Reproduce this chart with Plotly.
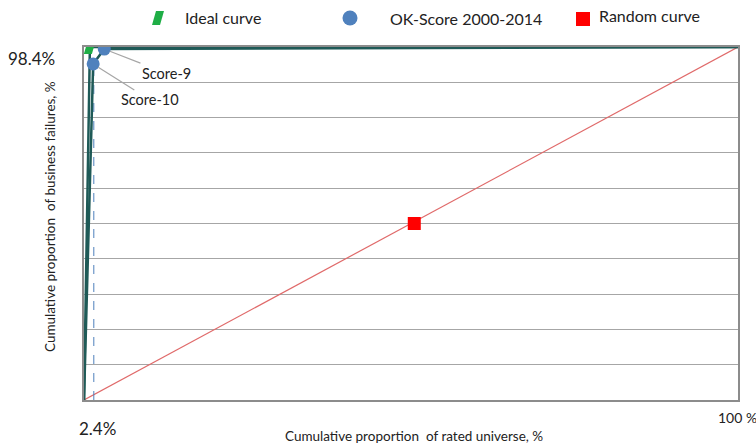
import plotly.graph_objects as go

# ---- data (percent) ----
ideal_x = [0, 0.9, 100]
ideal_y = [0, 100, 100]

okscore_x = [0, 1.4, 3.1, 100]
okscore_y = [0, 95.2, 99.4, 100]
okscore_labels = ["", "Score-10", "Score-9", ""]

cutoff_x = [1.5, 1.5]
cutoff_y = [0, 93.5]

random_x = [0, 50, 100]
random_y = [0, 50, 100]
random_marker_x = [50.5]
random_marker_y = [50]

legend_names = ["Ideal curve", "OK-Score 2000-2014", "Random curve"]
y_label_text = "98.4%"
x_label_text = "2.4%"
x_end_text = "100 %"

FONT = "Lato"
TEAL = "#1f5a57"
GREEN = "#1fae46"
BLUE = "#4f81bd"
RED = "#ff0000"

fig = go.Figure()

# random diagonal
fig.add_trace(go.Scatter(x=random_x, y=random_y, mode="lines",
                         line=dict(color="#e06a6a", width=1.2), showlegend=False, hoverinfo="skip"))
fig.add_trace(go.Scatter(x=random_marker_x, y=random_marker_y, mode="markers",
                         marker=dict(symbol="square", size=13, color=RED), showlegend=False))

# dashed cut-off
fig.add_trace(go.Scatter(x=cutoff_x, y=cutoff_y, mode="lines",
                         line=dict(color=BLUE, width=1, dash="dash"), showlegend=False))

# ideal curve
fig.add_trace(go.Scatter(x=ideal_x, y=ideal_y, mode="lines",
                         line=dict(color=TEAL, width=2.5), showlegend=False))

# OK-score curve
fig.add_trace(go.Scatter(x=okscore_x, y=okscore_y, mode="lines",
                         line=dict(color=TEAL, width=2.5), showlegend=False))
fig.add_trace(go.Scatter(x=okscore_x[1:3], y=okscore_y[1:3], mode="markers",
                         marker=dict(symbol="circle", size=13, color=BLUE), showlegend=False))

shapes = []
# ideal-curve marker (parallelogram) anchored at the ideal point
shapes.append(dict(type="path", xref="x", yref="y", xsizemode="pixel", ysizemode="pixel",
                   xanchor=ideal_x[1], yanchor=ideal_y[1],
                   path="M-6,-7 L2,-7 L6,7 L-2,7 Z", fillcolor=GREEN, line=dict(width=0)))

# legend icons
shapes.append(dict(type="path", xref="paper", yref="paper", xsizemode="pixel", ysizemode="pixel",
                   xanchor=(158 - 84) / 654, yanchor=(400 - 18) / 353,
                   path="M-6,-7 L2,-7 L6,7 L-2,7 Z", fillcolor=GREEN, line=dict(width=0)))
shapes.append(dict(type="circle", xref="paper", yref="paper", xsizemode="pixel", ysizemode="pixel",
                   xanchor=(350 - 84) / 654, yanchor=(400 - 18) / 353,
                   x0=-7.5, x1=7.5, y0=-7.5, y1=7.5, fillcolor=BLUE, line=dict(width=0)))
shapes.append(dict(type="rect", xref="paper", yref="paper", xsizemode="pixel", ysizemode="pixel",
                   xanchor=(583 - 84) / 654, yanchor=(400 - 19) / 353,
                   x0=-7, x1=7, y0=-7, y1=7, fillcolor=RED, line=dict(width=0)))

annotations = []
# legend text
for txt, px, py in zip(legend_names, [183, 388, 597], [17, 19, 16]):
    annotations.append(dict(text=txt, xref="paper", yref="paper",
                            x=(px - 84) / 654, y=(400 - py) / 353,
                            xanchor="left", yanchor="middle", showarrow=False,
                            font=dict(family=FONT, size=16, color="#222")))

# score labels
for i, (ax, ay) in zip([1, 2], [(57, 36), (62, 24)]):
    annotations.append(dict(text=okscore_labels[i], x=okscore_x[i], y=okscore_y[i],
                            xref="x", yref="y", showarrow=True, arrowhead=0,
                            arrowcolor="#a6a6a6", arrowwidth=1.2, ax=ax, ay=ay,
                            standoff=6, font=dict(family=FONT, size=14.5, color="#222")))

def text_at(txt, px, py, size, angle=0):
    return dict(text=txt, xref="paper", yref="paper",
                x=(px - 84) / 654, y=(400 - py) / 353,
                xanchor="center", yanchor="middle", showarrow=False, textangle=angle,
                font=dict(family=FONT, size=size, color="#222"))

annotations.append(text_at(y_label_text, 31, 58, 17))
annotations.append(text_at(x_label_text, 97, 428, 17))
annotations.append(text_at(x_end_text, 737, 417, 14))
annotations.append(text_at("Cumulative proportion  of rated universe, %", 414, 436, 13.5))
annotations.append(text_at("Cumulative proportion  of business failures, %", 50, 217, 13.5, -90))

fig.update_layout(
    width=756, height=444,
    margin=dict(l=84, r=18, t=47, b=44),
    paper_bgcolor="white", plot_bgcolor="white",
    showlegend=False,
    shapes=shapes, annotations=annotations,
    xaxis=dict(range=[0, 100], showticklabels=False, showgrid=False, zeroline=False,
               showline=True, linecolor="#8c8c8c", linewidth=1.5, mirror=True, ticks=""),
    yaxis=dict(range=[0, 100], dtick=10, showticklabels=False, showgrid=True,
               gridcolor="#a6a6a6", gridwidth=1, zeroline=False,
               showline=True, linecolor="#8c8c8c", linewidth=1.5, mirror=True, ticks=""),
)

fig.write_html("out.html", config={"displayModeBar": False},
               post_script="document.body.style.margin='0';document.body.style.overflow='hidden';")
